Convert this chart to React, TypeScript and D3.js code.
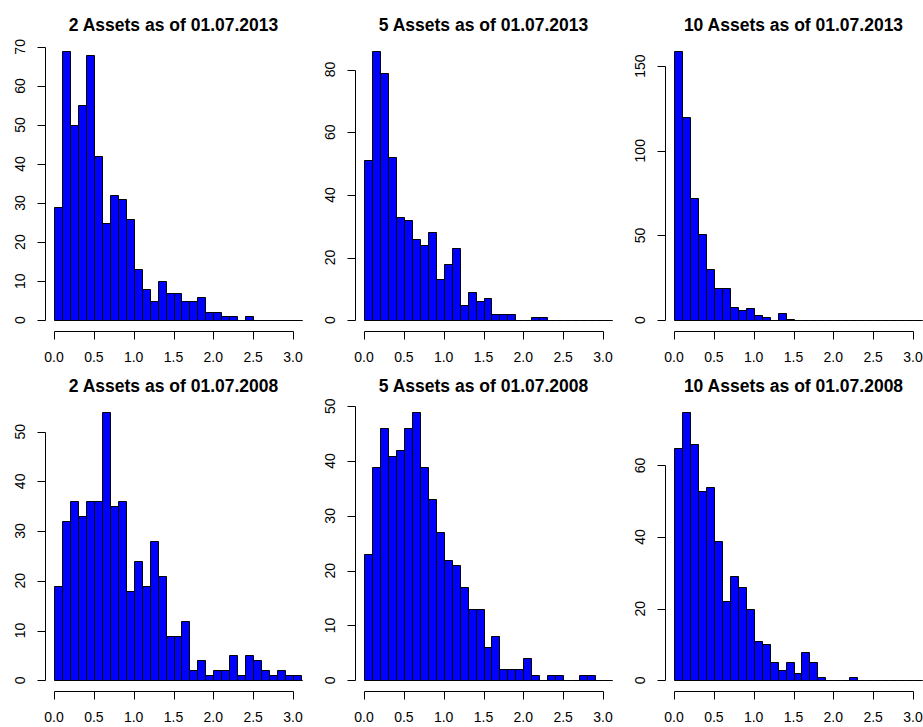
import React from "react";
import * as d3 from "d3";

// ---- data (counts per 0.1-wide bin starting at 0.0) ----
const titles = [
  "2 Assets as of 01.07.2013",
  "5 Assets as of 01.07.2013",
  "10 Assets as of 01.07.2013",
  "2 Assets as of 01.07.2008",
  "5 Assets as of 01.07.2008",
  "10 Assets as of 01.07.2008",
];
const counts2A2013 = [29, 69, 50, 55, 68, 42, 25, 32, 31, 26, 13, 8, 5, 10, 7, 7, 5, 5, 6, 2, 2, 1, 1, 0, 1];
const counts5A2013 = [51, 86, 79, 52, 33, 32, 26, 24, 28, 13, 18, 23, 5, 9, 6, 7, 2, 2, 2, 0, 0, 1, 1];
const counts10A2013 = [159, 120, 72, 51, 30, 19, 19, 8, 6, 7, 3, 2, 0, 4, 1];
const counts2A2008 = [19, 32, 36, 33, 36, 36, 54, 35, 36, 18, 24, 19, 28, 21, 9, 9, 12, 2, 4, 1, 2, 2, 5, 1, 5, 4, 2, 1, 2, 1, 1];
const counts5A2008 = [23, 39, 46, 41, 42, 46, 49, 39, 33, 27, 22, 21, 17, 13, 13, 6, 8, 2, 2, 2, 4, 1, 0, 1, 1, 0, 0, 1, 1];
const counts10A2008 = [65, 75, 66, 53, 54, 39, 22, 29, 26, 20, 11, 10, 5, 3, 5, 2, 8, 5, 1, 0, 0, 0, 1];
const allCounts = [counts2A2013, counts5A2013, counts10A2013, counts2A2008, counts5A2008, counts10A2008];

const yTicks2A2013 = [0, 10, 20, 30, 40, 50, 60, 70];
const yTicks5A2013 = [0, 20, 40, 60, 80];
const yTicks10A2013 = [0, 50, 100, 150];
const yTicks2A2008 = [0, 10, 20, 30, 40, 50];
const yTicks5A2008 = [0, 10, 20, 30, 40, 50];
const yTicks10A2008 = [0, 20, 40, 60];
const allYTicks = [yTicks2A2013, yTicks5A2013, yTicks10A2013, yTicks2A2008, yTicks5A2008, yTicks10A2008];

const xTicks = [0, 0.5, 1.0, 1.5, 2.0, 2.5, 3.0];
const binWidth = 0.1;
const nBins = 32;

// ---- layout ----
const W = 923;
const H = 727;
const colLeft = [44.5, 354.5, 664.5];
const plotW = 258;
const rows = [
  { top: 40, bottom: 331 },
  { top: 401, bottom: 691 },
];
const FONT = "'Liberation Sans', Arial, Helvetica, sans-serif";

function Panel({ idx }: { idx: number }) {
  const col = idx % 3;
  const row = Math.floor(idx / 3);
  const left = colLeft[col];
  const right = left + plotW;
  const { top, bottom } = rows[row];
  const counts = allCounts[idx];
  const maxC = d3.max(counts) as number;
  const x = d3.scaleLinear().domain([-0.12, 3.12]).range([left, right]);
  const y = d3.scaleLinear().domain([-0.04 * maxC, 1.04 * maxC]).range([bottom, top]);
  const bins = d3.range(nBins).map((i) => ({ x0: i * binWidth, x1: (i + 1) * binWidth, c: counts[i] || 0 }));
  const yT = allYTicks[idx];
  const clipId = `clip${idx}`;
  const axY = Math.round(bottom) + 0.5;
  const axX = Math.round(left) + 0.5;
  return (
    <g>
      <defs>
        <clipPath id={clipId}>
          <rect x={left} y={top} width={plotW} height={bottom - top} />
        </clipPath>
      </defs>
      <text
        x={(left + right) / 2}
        y={top - 15}
        dy="0.36em"
        textAnchor="middle"
        fontFamily={FONT}
        fontWeight="bold"
        fontSize={17.5}
        fill="#000"
      >
        {titles[idx]}
      </text>
      <g clipPath={`url(#${clipId})`}>
        {bins.map((b, i) => {
          const x0 = Math.round(x(b.x0)) + 0.5;
          const x1 = Math.round(x(b.x1)) + 0.5;
          const y0 = Math.round(y(0)) + 0.5;
          const y1 = Math.round(y(b.c)) + 0.5;
          return (
            <path
              key={i}
              d={`M${x0},${y0}H${x1}V${y1}H${x0}Z`}
              fill="#0000FF"
              stroke="#000"
              strokeWidth={1}
            />
          );
        })}
      </g>
      {/* x axis */}
      <line x1={Math.round(x(0)) + 0.5} x2={Math.round(x(3)) + 0.5} y1={axY} y2={axY} stroke="#000" />
      {xTicks.map((t) => (
        <g key={t}>
          <line x1={Math.round(x(t)) + 0.5} x2={Math.round(x(t)) + 0.5} y1={axY} y2={axY + 8} stroke="#000" />
          <text
            x={x(t)}
            y={bottom + 26}
            dy="0.36em"
            textAnchor="middle"
            fontFamily={FONT}
            fontSize={14}
            fill="#000"
          >
            {t.toFixed(1)}
          </text>
        </g>
      ))}
      {/* y axis */}
      <line
        x1={axX}
        x2={axX}
        y1={Math.round(y(yT[0])) + 0.5}
        y2={Math.round(y(yT[yT.length - 1])) + 0.5}
        stroke="#000"
      />
      {yT.map((t) => {
        const yy = Math.round(y(t)) + 0.5;
        const cx = left - 25;
        return (
          <g key={t}>
            <line x1={axX - 8} x2={axX} y1={yy} y2={yy} stroke="#000" />
            <text
              transform={`translate(${cx},${y(t)}) rotate(-90)`}
              x={0}
              y={0}
              dy="0.36em"
              textAnchor="middle"
              fontFamily={FONT}
              fontSize={14}
              fill="#000"
            >
              {t}
            </text>
          </g>
        );
      })}
    </g>
  );
}

export default function App() {
  return (
    <svg
      width={W}
      height={H}
      viewBox={`0 0 ${W} ${H}`}
      style={{ position: "absolute", left: 0, top: 0, background: "#fff" }}
    >
      <rect x={0} y={0} width={W} height={H} fill="#fff" />
      {titles.map((_, i) => (
        <Panel key={i} idx={i} />
      ))}
    </svg>
  );
}
